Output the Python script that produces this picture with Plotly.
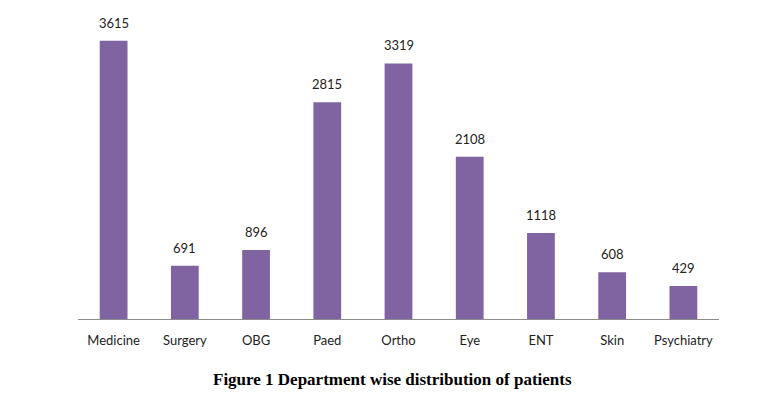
import plotly.graph_objects as go

departments = ["Medicine", "Surgery", "OBG", "Paed", "Ortho", "Eye", "ENT", "Skin", "Psychiatry"]
patients = [3615, 691, 896, 2815, 3319, 2108, 1118, 608, 429]
title_text = "Figure 1 Department wise distribution of patients"

label_font = dict(family="Lato, Open Sans, sans-serif", size=13, color="#222")

fig = go.Figure(go.Bar(
    x=departments, y=patients,
    marker=dict(color="#8064A2", line=dict(width=0)),
    width=0.39,
))

annotations = [
    dict(x=d, y=v, xref="x", yref="y", text=str(v), showarrow=False,
         yanchor="bottom", xanchor="center", yshift=8, font=label_font)
    for d, v in zip(departments, patients)
]
annotations.append(dict(
    text="<b>" + title_text + "</b>", xref="paper", yref="paper",
    x=0.49, y=-0.158, xanchor="center", yanchor="top", showarrow=False,
    font=dict(family="Liberation Serif, Times New Roman, serif", size=17, color="#000"),
))

fig.update_layout(
    width=774, height=389,
    margin=dict(l=70, r=63, t=3, b=78, autoexpand=False),
    plot_bgcolor="white", paper_bgcolor="white",
    showlegend=False,
    xaxis=dict(showline=True, linecolor="#8c8c8c", linewidth=1, ticks="",
               tickfont=label_font, showgrid=False, ticklabelstandoff=9),
    yaxis=dict(range=[0, 4000], visible=False, showgrid=False),
    annotations=annotations,
)

fig.write_html("out.html")
